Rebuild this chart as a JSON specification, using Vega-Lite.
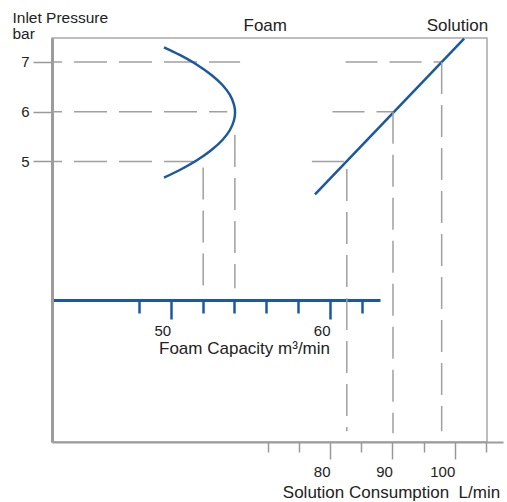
{
  "$schema": "https://vega.github.io/schema/vega-lite/v6.json",
  "width": 435,
  "height": 404,
  "autosize": {"type": "none"},
  "padding": {"left": 52, "top": 38, "right": 20, "bottom": 60},
  "background": "white",
  "config": {
    "font": "Liberation Sans",
    "view": {"stroke": "#a8a8a8", "strokeWidth": 1.5},
    "axis": {"labelFont": "Liberation Sans", "titleFont": "Liberation Sans", "labelColor": "#222222", "titleColor": "#222222", "titleFontWeight": "normal", "grid": false}
  },
  "datasets": {
    "foamCurve": [
      {"k": 1, "c": 49.58, "p": 7.295},
      {"k": 2, "c": 50.57, "p": 7.141},
      {"k": 3, "c": 51.67, "p": 6.94},
      {"k": 4, "c": 52.56, "p": 6.739},
      {"k": 5, "c": 53.25, "p": 6.538},
      {"k": 6, "c": 53.72, "p": 6.337},
      {"k": 7, "c": 53.98, "p": 6.136},
      {"k": 8, "c": 54.04, "p": 5.985},
      {"k": 9, "c": 53.98, "p": 5.834},
      {"k": 10, "c": 53.72, "p": 5.633},
      {"k": 11, "c": 53.25, "p": 5.432},
      {"k": 12, "c": 52.56, "p": 5.231},
      {"k": 13, "c": 51.67, "p": 5.03},
      {"k": 14, "c": 50.57, "p": 4.829},
      {"k": 15, "c": 49.58, "p": 4.675}
    ],
    "foamH": [
      {"c": 42.55, "c2": 54.36, "p": 7},
      {"c": 42.55, "c2": 53.55, "p": 6},
      {"c": 42.55, "c2": 51.7, "p": 5}
    ],
    "foamV": [
      {"c": 52.04, "p": 4.88, "p2": 2.45},
      {"c": 54.03, "p": 5.53, "p2": 2.45}
    ],
    "solLine": [
      {"s": 77.6, "p": 4.34},
      {"s": 101.5, "p": 7.47}
    ],
    "solH": [
      {"s": 82.5, "s2": 97.9, "p": 7},
      {"s": 80.4, "s2": 90.1, "p": 6},
      {"s": 77.1, "s2": 82.7, "p": 5}
    ],
    "solV": [
      {"s": 82.7, "p": 4.85, "p2": -0.42},
      {"s": 90.1, "p": 6, "p2": -0.46},
      {"s": 97.9, "p": 7, "p2": -0.42}
    ]
  },
  "encoding": {
    "y": {
      "field": "p",
      "type": "quantitative",
      "scale": {"domain": [-0.638, 7.482], "nice": false, "zero": false},
      "axis": {
        "orient": "left",
        "values": [5, 6, 7],
        "tickSize": 19,
        "tickColor": "#999999",
        "tickWidth": 1.5,
        "domainColor": "#9c9c9c",
        "domainWidth": 3,
        "labelFontSize": 15,
        "labelPadding": 4,
        "title": ["Inlet Pressure", "bar"],
        "titleFontSize": 15.5,
        "titleAngle": 0,
        "titleAlign": "left",
        "titleBaseline": "alphabetic",
        "titleX": -40,
        "titleY": -15.5,
        "titleLineHeight": 16
      }
    }
  },
  "resolve": {"scale": {"x": "independent"}, "axis": {"x": "independent"}},
  "layer": [
    {
      "encoding": {
        "x": {
          "field": "c",
          "type": "quantitative",
          "scale": {"domain": [42.55, 63.14], "range": [0, 328], "nice": false, "zero": false},
          "axis": {
            "orient": "bottom",
            "offset": -142,
            "values": [50, 60],
            "tickSize": 19,
            "tickColor": "#1b58a3",
            "tickWidth": 2.5,
            "domainColor": "#1b58a3",
            "domainWidth": 3,
            "labelAlign": "right",
            "labelFontSize": 15,
            "labelPadding": 4,
            "title": "Foam Capacity m³/min",
            "titleFontSize": 17,
            "titleX": 192,
            "titleY": 53,
            "titleAlign": "center",
            "titleBaseline": "alphabetic"
          }
        }
      },
      "layer": [
        {
          "data": {"name": "foamH"},
          "mark": {"type": "rule", "color": "#a0a0a0", "strokeWidth": 1.5, "strokeDash": [33, 12], "strokeDashOffset": 23},
          "encoding": {"x2": {"field": "c2"}}
        },
        {
          "data": {"name": "foamCurve"},
          "mark": {"type": "line", "color": "#1b58a3", "strokeWidth": 2.5, "interpolate": "catmull-rom"},
          "encoding": {"order": {"field": "k", "type": "quantitative"}}
        }
      ]
    },
    {
      "data": {"name": "foamV"},
      "mark": {"type": "rule", "color": "#a0a0a0", "strokeWidth": 1.5, "strokeDash": [32, 11]},
      "encoding": {
        "x": {
          "field": "c",
          "type": "quantitative",
          "scale": {"domain": [42.55, 63.14], "range": [0, 328], "nice": false, "zero": false},
          "axis": {
            "orient": "bottom",
            "offset": -142,
            "values": [48, 52, 54, 56, 58, 62],
            "tickSize": 13,
            "tickColor": "#1b58a3",
            "tickWidth": 2.5,
            "domain": false,
            "labels": false,
            "title": "Foam",
            "titleFontSize": 17,
            "titleX": 191,
            "titleY": -269.3,
            "titleAlign": "left",
            "titleBaseline": "alphabetic"
          }
        },
        "y2": {"field": "p2"}
      }
    },
    {
      "encoding": {
        "x": {
          "field": "s",
          "type": "quantitative",
          "scale": {"domain": [35.45, 107.73], "range": [0, 451], "nice": false, "zero": false},
          "axis": {
            "orient": "bottom",
            "values": [80, 90, 100],
            "tickSize": 17,
            "tickColor": "#999999",
            "tickWidth": 1.5,
            "domainColor": "#9c9c9c",
            "domainWidth": 2,
            "labelAlign": "right",
            "labelFontSize": 15,
            "labelPadding": 5,
            "title": "Solution Consumption\u00a0 L/min",
            "titleFontSize": 17,
            "titleX": 339,
            "titleY": 55.3,
            "titleAlign": "center",
            "titleBaseline": "alphabetic"
          }
        }
      },
      "layer": [
        {
          "data": {"name": "solH"},
          "mark": {"type": "rule", "color": "#a0a0a0", "strokeWidth": 1.5, "strokeDash": [32, 12]},
          "encoding": {"x2": {"field": "s2"}}
        },
        {
          "data": {"name": "solLine"},
          "mark": {"type": "line", "color": "#1b58a3", "strokeWidth": 2.5}
        }
      ]
    },
    {
      "data": {"name": "solV"},
      "mark": {"type": "rule", "color": "#a0a0a0", "strokeWidth": 1.5, "strokeDash": [32, 11]},
      "encoding": {
        "x": {
          "field": "s",
          "type": "quantitative",
          "scale": {"domain": [35.45, 107.73], "range": [0, 451], "nice": false, "zero": false},
          "axis": {
            "orient": "bottom",
            "values": [70, 75, 85, 95, 105],
            "tickSize": 10,
            "tickColor": "#999999",
            "tickWidth": 1.5,
            "domain": false,
            "labels": false,
            "title": "Solution",
            "titleFontSize": 17,
            "titleX": 435.7,
            "titleY": -411.3,
            "titleAlign": "right",
            "titleBaseline": "alphabetic"
          }
        },
        "y2": {"field": "p2"}
      }
    }
  ]
}
